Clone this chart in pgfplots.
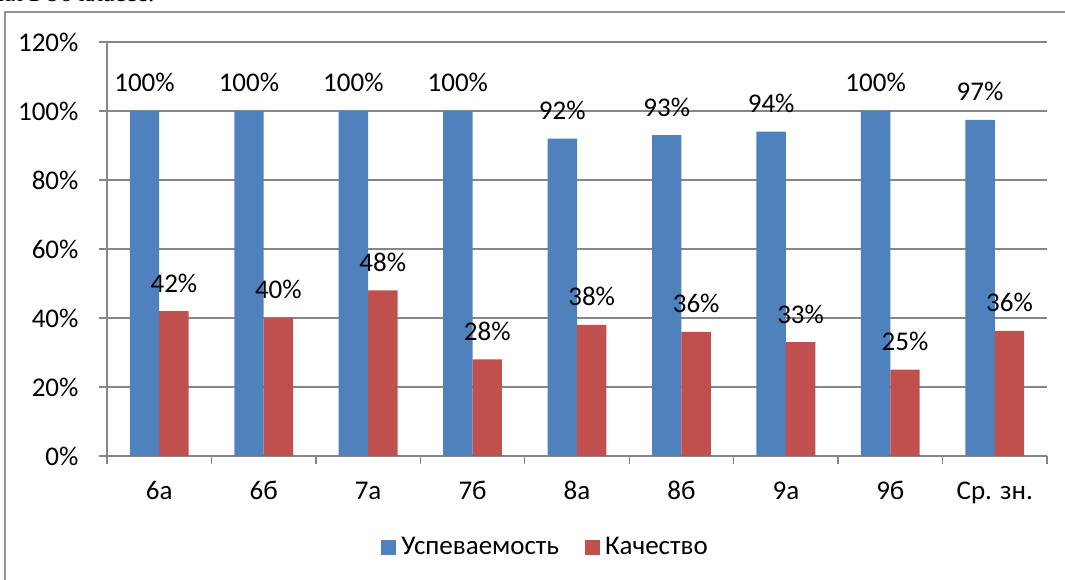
\documentclass[border=0pt]{standalone}
\usepackage{fontspec}
\setmainfont{Carlito}
\newfontfamily\serifcut{Liberation Serif}
\usepackage{pgfplots}
\pgfplotsset{compat=1.18}
\definecolor{usp}{HTML}{4F81BD}
\definecolor{kach}{HTML}{C0504D}
\definecolor{gridgray}{HTML}{868686}
\newcommand{\chartfont}{\fontsize{27}{31}\selectfont}

\begin{document}
\begin{tikzpicture}
\useasboundingbox (0pt,0pt) rectangle (1065pt,580pt);
\clip (0pt,0pt) rectangle (1065pt,580pt);
% cut-off line of the page text above the chart
\node[anchor=base west, inner sep=0pt, font=\serifcut\fontsize{25}{29}\selectfont] at (-2pt,578.5pt) {ия в 9б классе.};
% chart frame (cut at right and bottom)
\draw[gridgray!90, line width=1.5pt] (5pt,-20pt) -- (5pt,568pt) -- (1100pt,568pt);
\begin{axis}[
  at={(107pt,124pt)}, anchor=south west, scale only axis,
  width=940pt, height=414pt,
  ybar=0pt, bar width=29.4pt,
  xmin=-0.5, xmax=8.5, ymin=0, ymax=120,
  axis x line*=bottom, axis y line*=left,
  axis line style={gridgray, line width=1.3pt, -},
  xtick={-0.5,0.5,...,8.5}, xticklabels={},
  extra x ticks={0,1,2,3,4,5,6,7,8},
  extra x tick labels={6а,6б,7а,7б,8а,8б,9а,9б,Ср. зн.},
  extra x tick style={major tick length=0pt},
  ytick={0,20,...,120},
  yticklabels={0\%,20\%,40\%,60\%,80\%,100\%,120\%},
  tick align=outside, major tick length=8pt,
  tick style={gridgray, line width=1.3pt},
  ymajorgrids, grid style={gridgray, line width=1.3pt},
  xticklabel style={font=\chartfont, anchor=base, inner sep=0pt, yshift=-44pt},
  yticklabel style={font=\chartfont, anchor=east, xshift=-17pt},
  point meta=explicit symbolic,
  nodes near coords,
  every node near coord/.append style={font=\chartfont, anchor=base, inner sep=0pt, yshift=19pt, black},
  legend style={at={(0.4665,-0.22)}, anchor=center, draw=none, fill=none,
    legend columns=2, font=\chartfont,
    /tikz/every odd column/.append style={column sep=3pt},
    /tikz/every even column/.append style={column sep=24pt}},
  legend image code/.code={\fill[#1] (0pt,-7.5pt) rectangle (15pt,7.5pt);},
]
\addplot[fill=usp, draw=none] coordinates {
  (0,100) [100\%] (1,100) [100\%] (2,100) [100\%] (3,100) [100\%]
  (4,92) [92\%] (5,93) [93\%] (6,94) [94\%] (7,100) [100\%] (8,97.4) [97\%]};
\addplot[fill=kach, draw=none] coordinates {
  (0,42) [42\%] (1,40) [40\%] (2,48) [48\%] (3,28) [28\%]
  (4,38) [38\%] (5,36) [36\%] (6,33) [33\%] (7,25) [25\%] (8,36.25) [36\%]};
\legend{Успеваемость, Качество}
\end{axis}
\end{tikzpicture}
\end{document}
